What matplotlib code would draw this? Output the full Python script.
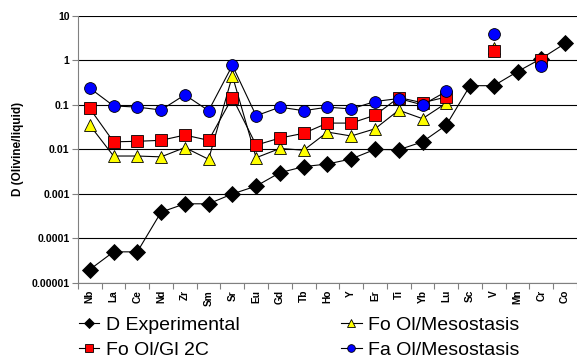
import numpy as np
import matplotlib
matplotlib.use('Agg')
import matplotlib.pyplot as plt

plt.rcParams['font.family'] = ['Liberation Sans', 'DejaVu Sans']

###############################################################################

# elements on the x axis
elements = ['Nb', 'La', 'Ce', 'Nd', 'Zr', 'Sm', 'Sr', 'Eu', 'Gd', 'Tb', 'Ho',
            'Y', 'Er', 'Ti', 'Yb', 'Lu', 'Sc', 'V', 'Mn', 'Cr', 'Co']

nan = np.nan

# partition coefficients
d_experimental = [2e-5, 5e-5, 5e-5, 3.9e-4, 6e-4, 6e-4, 1e-3, 1.5e-3, 3e-3,
                  4.1e-3, 4.7e-3, 6.1e-3, 0.01, 0.0098, 0.0148, 0.035, 0.27,
                  0.27, 0.56, 1.1, 2.4]
fo_ol_mesostasis = [0.035, 0.0071, 0.0071, 0.0068, 0.011, 0.006, 0.45,
                    0.0065, 0.0105, 0.0096, 0.0245, 0.02, 0.029, 0.076, 0.049,
                    0.11, nan, 1.9, nan, 1.0, nan]
fo_ol_gl_2c = [0.083, 0.0148, 0.0152, 0.016, 0.021, 0.016, 0.146, 0.0125,
               0.018, 0.023, 0.039, 0.039, 0.0585, 0.146, 0.112, 0.15, nan,
               1.59, nan, 1.0, nan]
fa_ol_mesostasis = [0.238, 0.095, 0.089, 0.077, 0.168, 0.074, 0.77, 0.057,
                    0.089, 0.074, 0.089, 0.081, 0.119, 0.139, 0.1, 0.2, nan,
                    3.98, nan, 0.73, nan]

ytick_values = [1e-5, 1e-4, 1e-3, 1e-2, 1e-1, 1, 10]
ytick_labels = ['0.00001', '0.0001', '0.001', '0.01', '0.1', '1', '10']

###############################################################################

fig = plt.figure(figsize=(5.77, 3.6), dpi=100)
ax = fig.add_axes([0.135, 0.214, 0.865, 0.742])

x = np.arange(len(elements))
lw = 0.8
ms = 8.5

# series: (values, label, marker, colour, marker size)
series = [
    (d_experimental, 'D Experimental', 'D', 'black', ms * 0.95),
    (fo_ol_mesostasis, 'Fo Ol/Mesostasis', '^', '#ffff00', ms),
    (fo_ol_gl_2c, 'Fo Ol/Gl 2C', 's', '#ff0000', ms * 0.95),
    (fa_ol_mesostasis, 'Fa Ol/Mesostasis', 'o', '#0000ff', ms),
]

handles = {}
for i, (vals, label, marker, color, size) in enumerate(series):
    h, = ax.plot(x, vals, color='black', lw=lw, marker=marker,
                 markerfacecolor=color, markeredgecolor='black',
                 markeredgewidth=0.6, markersize=size, label=label,
                 zorder=3 + i)
    handles[label] = h

ax.set_yscale('log')
ax.set_ylim(1e-5, 10)
ax.set_xlim(-0.5, len(elements) - 0.5)

ax.set_yticks(ytick_values)
ax.set_yticklabels(ytick_labels, fontsize=7.6, fontweight='bold')
ax.yaxis.set_minor_locator(matplotlib.ticker.NullLocator())
ax.tick_params(axis='y', length=4, width=0.8, color='#808080', pad=2)
ax.grid(axis='y', color='black', lw=0.8)
ax.set_axisbelow(True)

# category labels centred, ticks on the boundaries
ax.set_xticks(x)
ax.set_xticklabels(elements, rotation=90, fontsize=7.3, fontweight='bold')
ax.tick_params(axis='x', length=0, pad=5)
ax.set_xticks(np.arange(len(elements) + 1) - 0.5, minor=True)
ax.tick_params(axis='x', which='minor', length=4, width=0.8, color='#808080')

for side in ['top', 'right']:
    ax.spines[side].set_visible(False)
ax.spines['left'].set_color('#808080')
ax.spines['bottom'].set_color('#808080')
ax.spines['left'].set_linewidth(0.8)
ax.spines['bottom'].set_linewidth(0.8)

ax.set_ylabel('D (Olivine/liquid)', fontsize=8.5, fontweight='bold', labelpad=5)

order = ['D Experimental', 'Fo Ol/Gl 2C', 'Fo Ol/Mesostasis', 'Fa Ol/Mesostasis']
fig.legend([handles[k] for k in order], order, ncol=2, frameon=False,
           fontsize=14, loc='lower left', bbox_to_anchor=(0.137, 0.002),
           handlelength=1.05, handletextpad=0.35, columnspacing=5.2,
           labelspacing=0.4, borderaxespad=0, borderpad=0, markerscale=0.65)

plt.savefig('out.png', dpi=100)
